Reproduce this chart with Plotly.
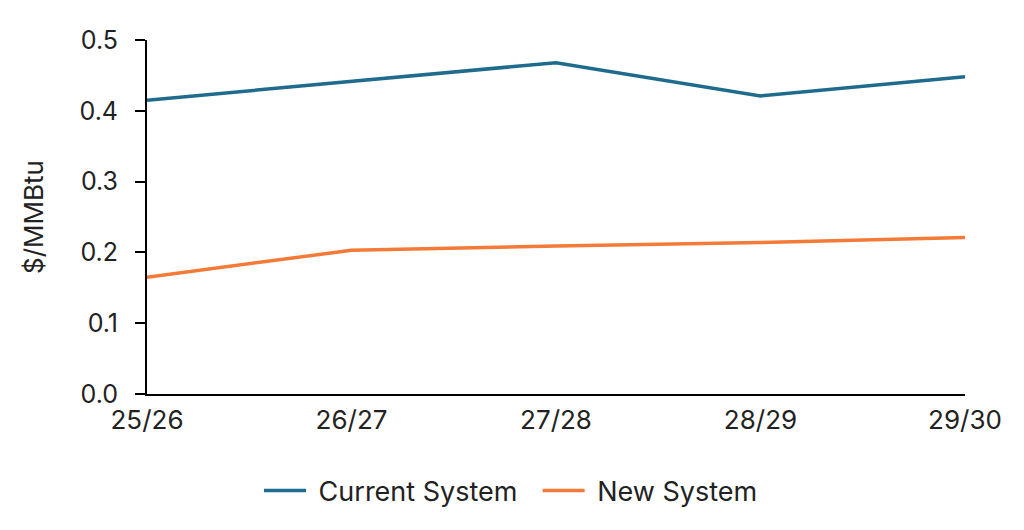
import plotly.graph_objects as go

years = ["25/26", "26/27", "27/28", "28/29", "29/30"]
current_system = [0.415, 0.442, 0.468, 0.421, 0.448]
new_system = [0.165, 0.203, 0.209, 0.214, 0.221]
y_ticks = [0.0, 0.1, 0.2, 0.3, 0.4, 0.5]
y_ticklabels = ["0.0", "0.1", "0.2", "0.3", "0.4", "0.5"]
series_names = ["\u00a0Current System\u00a0\u00a0", "\u00a0New System"]

xpos = list(range(len(years)))
FONT = "Inter, Liberation Sans, sans-serif"

fig = go.Figure()
fig.add_trace(go.Scatter(x=xpos, y=current_system, mode="lines", name=series_names[0],
                         line=dict(color="#1F6B8E", width=3.5)))
fig.add_trace(go.Scatter(x=xpos, y=new_system, mode="lines", name=series_names[1],
                         line=dict(color="#F47A37", width=3.5)))

fig.update_layout(
    width=1024, height=530,
    margin=dict(l=139, r=67, t=32, b=144),
    paper_bgcolor="white", plot_bgcolor="white",
    font=dict(family=FONT, size=25, color="#222222"),
    legend=dict(orientation="h", x=0.445, xanchor="center", y=-0.205, yanchor="top",
                font=dict(size=27), itemwidth=42),
    xaxis=dict(range=[0, 4], tickvals=xpos, ticktext=years, showgrid=False, zeroline=False,
               showline=True, linecolor="black", linewidth=2, ticks="", ticklabelstandoff=2,
               tickfont=dict(size=26)),
    yaxis=dict(range=[0, 0.5], tickvals=y_ticks, ticktext=y_ticklabels, showgrid=False,
               zeroline=False, showline=True, linecolor="black", linewidth=2,
               ticks="outside", ticklen=10, tickwidth=2, tickcolor="black",
               tickfont=dict(size=25), ticklabelstandoff=12,
               title=dict(text="$/MMBtu", font=dict(size=26), standoff=28)),
)

fig.write_html("out.html")
